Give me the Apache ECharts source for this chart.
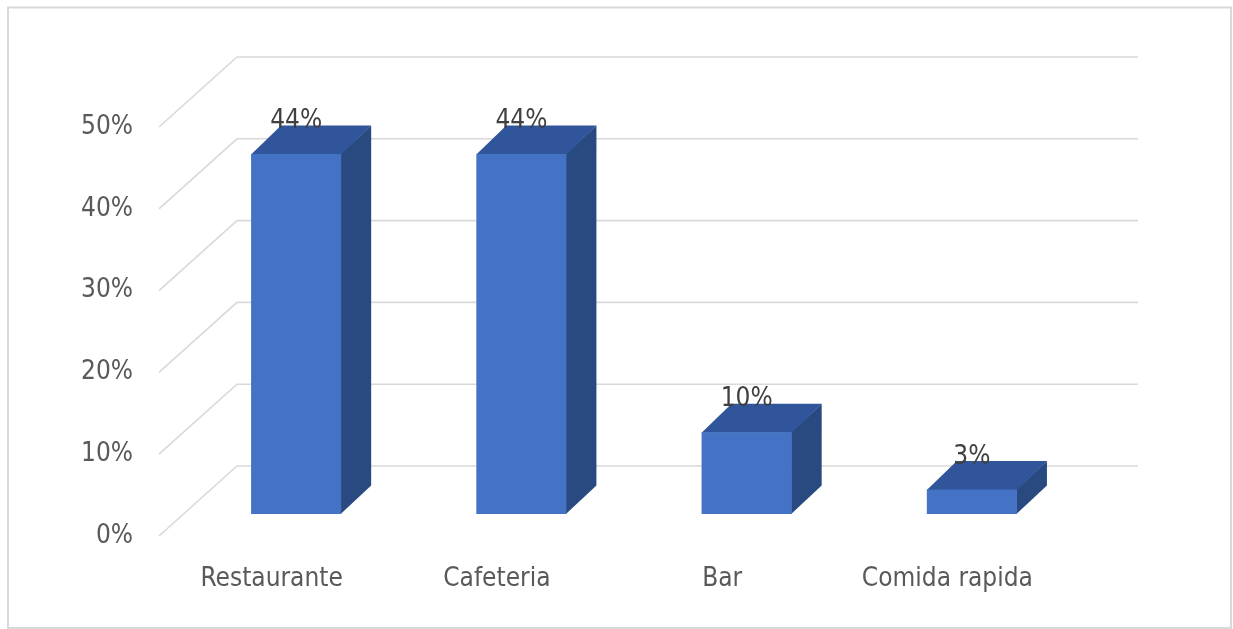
<!DOCTYPE html>
<html>
<head>
<meta charset="utf-8">
<script src="https://cdn.jsdelivr.net/npm/echarts@6/dist/echarts.min.js"></script>
<style>
  html, body { margin: 0; padding: 0; background: #ffffff; }
  #chart { width: 1233px; height: 629px; }
</style>
</head>
<body>
<div id="chart"></div>
<script>
// Data
const categories = ['Restaurante', 'Cafeteria', 'Bar', 'Comida rapida'];
const shares = [44, 44, 10, 3];
const yTicks = [0, 10, 20, 30, 40, 50];

// Oblique 3D projection: offsets from the front floor edge
const FONT = '"DejaVu Sans Condensed", "Liberation Sans Narrow", sans-serif';
const FONT_SIZE = 26;
const WALL_DEPTH = [78, -70];   // front edge -> back wall
const BAR_FRONT = [24.5, -22];  // front edge -> bar front face
const BAR_BACK = [54.5, -50.5]; // front edge -> bar back face
const BAR_RATIO = 0.4;

const COLORS = { front: '#4472C4', top: '#30559A', side: '#284A80', grid: '#D9D9D9' };

function renderGridLine(params, api) {
  const cs = params.coordSys;
  const y = api.coord([0, api.value(1)])[1];
  const x0 = cs.x;
  const bx = x0 + WALL_DEPTH[0];
  const by = y + WALL_DEPTH[1];
  return {
    type: 'polyline',
    shape: { points: [[x0, y], [bx, by], [bx + cs.width, by]] },
    style: { stroke: COLORS.grid, lineWidth: 1.6, fill: null }
  };
}

function renderBar(params, api) {
  const i = api.value(0);
  const v = api.value(1);
  const topPt = api.coord([i, v]);
  const basePt = api.coord([i, 0]);
  const bw = api.size([1, 0])[0] * BAR_RATIO;
  const xl = topPt[0] - bw / 2 + BAR_FRONT[0];
  const xr = xl + bw;
  const yt = topPt[1] + BAR_FRONT[1];
  const yb = basePt[1] + BAR_FRONT[1];
  const ddx = BAR_BACK[0] - BAR_FRONT[0];
  const ddy = BAR_BACK[1] - BAR_FRONT[1];
  return {
    type: 'group',
    children: [
      {
        type: 'polygon',
        shape: { points: [[xr - 0.5, yt], [xr + ddx, yt + ddy], [xr + ddx, yb + ddy], [xr - 0.5, yb]] },
        style: { fill: COLORS.side }
      },
      {
        type: 'polygon',
        shape: { points: [[xl, yt + 0.5], [xl + ddx, yt + ddy], [xr + ddx, yt + ddy], [xr, yt + 0.5]] },
        style: { fill: COLORS.top }
      },
      {
        type: 'rect',
        shape: { x: xl, y: yt, width: bw, height: yb - yt },
        style: { fill: COLORS.front }
      },
      {
        type: 'text',
        style: {
          text: v + '%',
          x: (xl + xr) / 2,
          y: yt + ddy - 4,
          align: 'center',
          verticalAlign: 'middle',
          fontFamily: FONT,
          fontSize: FONT_SIZE,
          fill: '#404040'
        }
      }
    ]
  };
}

const chart = echarts.init(document.getElementById('chart'), null, { renderer: 'canvas' });
chart.setOption({
  animation: false,
  backgroundColor: '#ffffff',
  graphic: [{
    type: 'rect',
    shape: { x: 8, y: 7.5, width: 1223, height: 620.5 },
    style: { fill: null, stroke: '#D9D9D9', lineWidth: 2 },
    silent: true
  }],
  grid: { left: 159, top: 127, width: 901, height: 409 },
  xAxis: {
    type: 'category',
    data: categories,
    axisLine: { show: false },
    axisTick: { show: false },
    splitLine: { show: false },
    axisLabel: { interval: 0, margin: 30, fontSize: FONT_SIZE, fontFamily: FONT, color: '#595959' }
  },
  yAxis: {
    type: 'value',
    min: 0,
    max: 50,
    interval: 10,
    axisLine: { show: false },
    axisTick: { show: false },
    splitLine: { show: false },
    axisLabel: {
      margin: 26,
      fontSize: FONT_SIZE,
      fontFamily: FONT,
      color: '#595959',
      padding: [8, 0, 0, 0],
      formatter: '{value}%'
    }
  },
  series: [
    {
      type: 'custom',
      silent: true,
      z: 1,
      renderItem: renderGridLine,
      data: yTicks.map(v => [0, v])
    },
    {
      type: 'custom',
      silent: true,
      z: 2,
      renderItem: renderBar,
      data: shares.map((v, i) => [i, v])
    }
  ]
});
</script>
</body>
</html>
